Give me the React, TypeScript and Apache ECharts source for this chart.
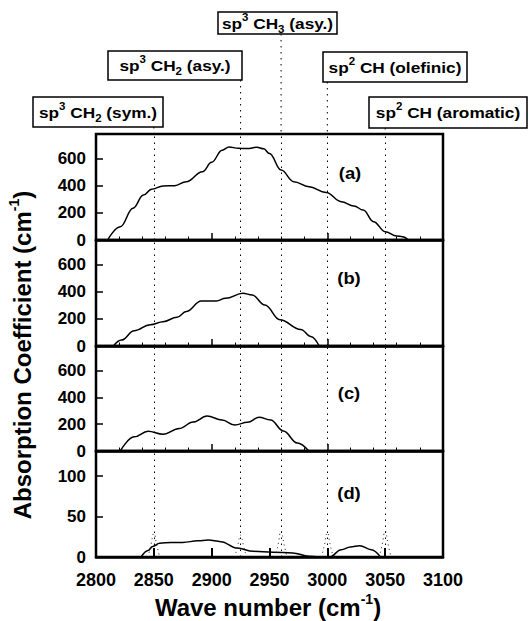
import React, { useEffect, useRef } from "react";
import * as echarts from "echarts";

const FONT = '"Liberation Sans", Arial, Helvetica, sans-serif';

// ---- data ----
const xTickLabels = [2800, 2850, 2900, 2950, 3000, 3050, 3100];
const yTickLabelsTop = [0, 200, 400, 600];
const yTickLabelsLow = [0, 50, 100];

const bandWaves = [2850, 2925, 2960, 3000, 3050];
const bandLabels = [
  "{t|sp}{sup|3}{t| CH}{sub|2}{t| (sym.)}",
  "{t|sp}{sup|3}{t| CH}{sub|2}{t| (asy.)}",
  "{t|sp}{sup|3}{t| CH}{sub|3}{t| (asy.)}",
  "{t|sp}{sup|2}{t| CH (olefinic)}",
  "{t|sp}{sup|2}{t| CH (aromatic)}",
];
// leader start in header units (0 = page top, 134 = top of plot)
const bandLeaderStart = [127, 80, 34, 82, 128];

const spectrumA: [number, number][] = [
  [2810, 0], [2821, 98], [2832, 235], [2841, 333], [2848, 375], [2858, 400],
  [2868, 402], [2878, 432], [2892, 506], [2900, 575], [2909, 665], [2915, 688],
  [2923, 680], [2931, 677], [2939, 687], [2945, 675], [2950, 640], [2960, 518],
  [2971, 432], [2984, 395], [2999, 352], [3012, 284], [3023, 252], [3031, 222],
  [3040, 136], [3050, 62], [3060, 30], [3065, 24], [3070, 0],
];
const spectrumB: [number, number][] = [
  [2815, 0], [2822, 44], [2833, 113], [2847, 158], [2858, 180], [2870, 213],
  [2878, 255], [2891, 333], [2904, 333], [2912, 353], [2927, 390], [2935, 378],
  [2946, 304], [2959, 195], [2977, 122], [2986, 69], [2993, 0],
];
const spectrumC: [number, number][] = [
  [2821, 0], [2833, 106], [2845, 148], [2858, 125], [2872, 168], [2884, 217],
  [2896, 261], [2909, 232], [2920, 194], [2931, 215], [2941, 252], [2951, 232],
  [2962, 150], [2974, 60], [2984, 0],
];
const spectrumD: [number, number][] = [
  [2839, 0], [2845, 8], [2849, 13], [2855, 17], [2865, 18], [2875, 18],
  [2888, 20], [2897, 21], [2908, 19], [2922, 11], [2936, 7], [2953, 6],
  [2970, 5], [2984, 1], [2993, 0], [3002, 0], [3012, 9], [3020, 12.5],
  [3028, 14], [3038, 9], [3046, 0],
];
// dotted component peaks in panel (d)
const componentsD: [number, number][][] = [
  [[2845, 0], [2847.5, 15], [2850, 29], [2852.5, 15], [2855, 0]],
  [[2920, 0], [2922.5, 14], [2925, 27], [2927.5, 14], [2930, 0]],
  [[2955, 0], [2957.5, 16], [2960, 32], [2962.5, 16], [2965, 0]],
  [[2995, 0], [2997.5, 15], [3000, 30], [3002.5, 15], [3005, 0]],
  [[3045, 0], [3047.5, 16], [3050, 32], [3052.5, 16], [3055, 0]],
];
const panelNames = ["(a)", "(b)", "(c)", "(d)"];

// ---- layout ----
const PLOT_LEFT = 96;
const PLOT_WIDTH = 347;
const panelTops = [134, 240, 346, 451];
const panelHeights = [106, 106, 105, 106];
const panelYMax = [785, 785, 785, 131];
const panelLabelPos = [
  [350, 173],
  [349, 278],
  [349, 393],
  [349, 493],
];
const labelBoxes = [
  { x: 33, y: 97, w: 130, h: 30 },
  { x: 108, y: 51, w: 134, h: 29 },
  { x: 218, y: 12, w: 119, h: 22 },
  { x: 323, y: 52, w: 144, h: 30 },
  { x: 369, y: 97, w: 158, h: 31 },
];

const DOT: number[] = [1.5, 4.5];

export default function App() {
  const ref = useRef<HTMLDivElement>(null);

  useEffect(() => {
    if (!ref.current) return;
    const chart = echarts.init(ref.current, undefined, { renderer: "svg" });

    const spectra = [spectrumA, spectrumB, spectrumC, spectrumD];

    const grids: any[] = panelTops.map((top, i) => ({
      left: PLOT_LEFT,
      top,
      width: PLOT_WIDTH,
      height: panelHeights[i],
      show: true,
      borderColor: "#000",
      borderWidth: 2.5,
      backgroundColor: "transparent",
      containLabel: false,
    }));
    grids.push({ left: PLOT_LEFT, top: 0, width: PLOT_WIDTH, height: 134, show: false });

    const xAxes: any[] = panelTops.map((_, i) => {
      const last = i === 3;
      return {
        gridIndex: i,
        type: "value",
        min: 2800,
        max: 3100,
        interval: last ? 50 : 100,
        axisLine: { show: true, onZero: false, lineStyle: { color: "#000", width: 2.5 } },
        axisTick: {
          show: true,
          inside: true,
          length: last ? 9 : 7,
          lineStyle: { color: "#000", width: last ? 2 : 1.5 },
        },
        minorTick: {
          show: !last,
          splitNumber: 5,
          length: 3.5,
          lineStyle: { color: "#000", width: 1 },
        },
        splitLine: { show: false },
        axisLabel: {
          show: last,
          margin: 14,
          color: "#000",
          fontWeight: "bold",
          fontSize: 18,
          fontFamily: FONT,
          formatter: (v: number) => (xTickLabels.includes(v) ? String(v) : ""),
        },
      };
    });
    xAxes.push({ gridIndex: 4, type: "value", min: 2800, max: 3100, show: false });

    const yAxes: any[] = panelTops.map((_, i) => {
      const ticks = i === 3 ? yTickLabelsLow : yTickLabelsTop;
      return {
        gridIndex: i,
        type: "value",
        min: 0,
        max: panelYMax[i],
        interval: i === 3 ? 50 : 200,
        axisLine: { show: false },
        splitLine: { show: false },
        axisTick: { show: true, inside: true, length: 7, lineStyle: { color: "#000", width: 1.5 } },
        axisLabel: {
          show: true,
          margin: 10,
          color: "#000",
          fontWeight: "bold",
          fontSize: 17,
          fontFamily: FONT,
          showMaxLabel: false,
          formatter: (v: number) => (ticks.includes(v) ? String(v) : ""),
        },
      };
    });
    yAxes.push({ gridIndex: 4, type: "value", min: 0, max: 134, inverse: true, show: false });

    const series: any[] = [];
    spectra.forEach((data, i) => {
      series.push({
        type: "line",
        xAxisIndex: i,
        yAxisIndex: i,
        data,
        symbol: "none",
        showSymbol: false,
        smooth: 0.4,
        smoothMonotone: "x",
        silent: true,
        z: 3,
        lineStyle: { color: "#000", width: 1.5 },
        markLine: {
          silent: true,
          symbol: ["none", "none"],
          label: { show: false },
          lineStyle: { color: "#000", width: 1, type: DOT },
          emphasis: { disabled: true },
          data: bandWaves.map((w) => ({ xAxis: w })),
        },
      });
    });
    componentsD.forEach((data) => {
      series.push({
        type: "line",
        xAxisIndex: 3,
        yAxisIndex: 3,
        data,
        symbol: "none",
        smooth: 0.5,
        silent: true,
        lineStyle: { color: "#222", width: 1, type: [1, 3.5] },
      });
    });
    bandWaves.forEach((w, j) => {
      series.push({
        type: "line",
        xAxisIndex: 4,
        yAxisIndex: 4,
        data: [
          [w, bandLeaderStart[j]],
          [w, 134],
        ],
        symbol: "none",
        silent: true,
        lineStyle: { color: "#000", width: 1, type: DOT },
      });
    });

    const boxRich = {
      t: { fontSize: 15, fontWeight: "bold", fontFamily: FONT, lineHeight: 22, fill: "#000", color: "#000" },
      sup: { fontSize: 10, fontWeight: "bold", fontFamily: FONT, lineHeight: 10, verticalAlign: "top", fill: "#000", color: "#000" },
      sub: { fontSize: 10, fontWeight: "bold", fontFamily: FONT, lineHeight: 10, verticalAlign: "bottom", fill: "#000", color: "#000" },
    };
    const nameRich = {
      t: { fontSize: 24, fontWeight: "bold", fontFamily: FONT, lineHeight: 30, fill: "#000", color: "#000" },
      sup: { fontSize: 14, fontWeight: "bold", fontFamily: FONT, lineHeight: 14, verticalAlign: "top", fill: "#000", color: "#000" },
    };

    const graphic: any[] = [];
    labelBoxes.forEach((b, j) => {
      graphic.push({
        type: "rect",
        silent: true,
        shape: { x: b.x, y: b.y, width: b.w, height: b.h },
        style: { fill: "#fff", stroke: "#000", lineWidth: 1.5 },
        z: 10,
      });
      graphic.push({
        type: "text",
        silent: true,
        x: b.x + b.w / 2,
        y: b.y + b.h / 2,
        scaleX: 1.15,
        z: 11,
        style: {
          text: bandLabels[j],
          rich: boxRich,
          fill: "#000",
          font: `bold 15px ${FONT}`,
          align: "center",
          verticalAlign: "middle",
          textAlign: "center",
          textVerticalAlign: "middle",
        },
      });
    });
    panelNames.forEach((n, i) => {
      graphic.push({
        type: "text",
        silent: true,
        x: panelLabelPos[i][0],
        y: panelLabelPos[i][1],
        scaleX: 1.15,
        z: 11,
        style: {
          text: n,
          fill: "#000",
          font: `bold 16px ${FONT}`,
          align: "center",
          verticalAlign: "middle",
          textAlign: "center",
          textVerticalAlign: "middle",
        },
      });
    });
    graphic.push({
      type: "text",
      silent: true,
      x: 268,
      y: 607,
      z: 11,
      style: {
        text: "{t|Wave number (cm}{sup|-1}{t|)}",
        rich: nameRich,
        fill: "#000",
        font: `bold 24px ${FONT}`,
        align: "center",
        verticalAlign: "middle",
        textAlign: "center",
        textVerticalAlign: "middle",
      },
    });
    graphic.push({
      type: "text",
      silent: true,
      x: 22,
      y: 355,
      rotation: Math.PI / 2,
      z: 11,
      style: {
        text: "{t|Absorption Coefficient (cm}{sup|-1}{t|)}",
        rich: nameRich,
        fill: "#000",
        font: `bold 24px ${FONT}`,
        align: "center",
        verticalAlign: "middle",
        textAlign: "center",
        textVerticalAlign: "middle",
      },
    });

    chart.setOption({
      animation: false,
      backgroundColor: "#fff",
      grid: grids,
      xAxis: xAxes,
      yAxis: yAxes,
      series,
      graphic,
    });

    return () => chart.dispose();
  }, []);

  return (
    <div
      ref={ref}
      style={{ position: "fixed", left: 0, top: 0, width: 532, height: 621, background: "#fff" }}
    />
  );
}
